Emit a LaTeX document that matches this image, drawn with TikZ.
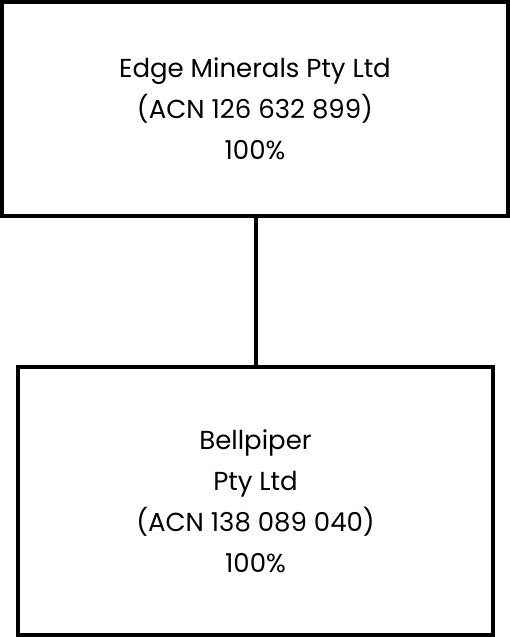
\documentclass[tikz,border=0pt]{standalone}
\usepackage{fontspec}
\setmainfont{Poppins}
\usepackage{tikz}
\usetikzlibrary{positioning}

\begin{document}
\begin{tikzpicture}[x=1pt,y=1pt,
  every node/.style={font=\fontsize{26}{41}\selectfont,align=center},
  entity/.style={draw=black,line width=4pt,fill=white,inner sep=0pt},
  link/.style={draw=black,line width=4pt}]
  \useasboundingbox (0,0) rectangle (510,637);
  \node[entity,minimum width=506,minimum height=214] (edge) at (255,528)
    {Edge Minerals Pty Ltd\\(ACN 126 632 899)\\100\%};
  \node[entity,minimum width=475,minimum height=268] (bell) at (255.5,136)
    {Bellpiper\\Pty Ltd\\(ACN 138 089 040)\\100\%};
  \draw[link] (edge.south -| 256,0) -- (bell.north -| 256,0);
\end{tikzpicture}
\end{document}
